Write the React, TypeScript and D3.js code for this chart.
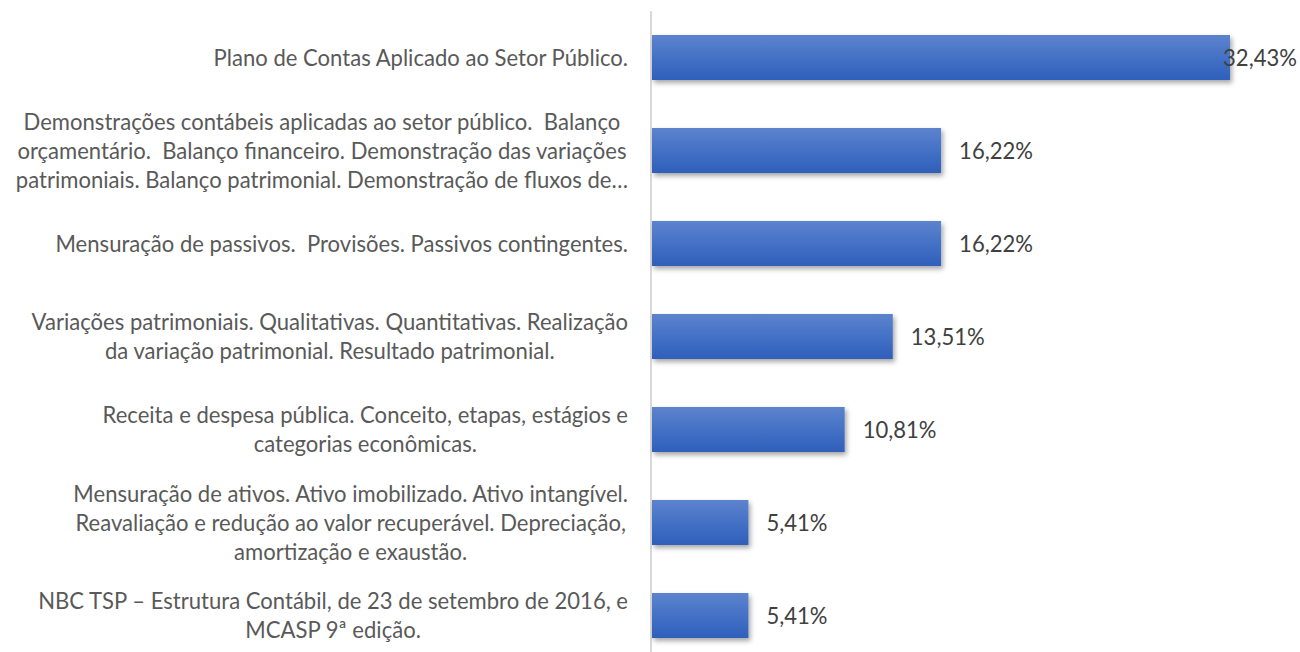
import React, { useEffect, useRef } from "react";
import * as d3 from "d3";

// category labels, line breaks as in the original chart
const categories = [
  "Plano de Contas Aplicado ao Setor Público.",
  "Demonstrações contábeis aplicadas ao setor público.  Balanço\norçamentário.  Balanço financeiro. Demonstração das variações\npatrimoniais. Balanço patrimonial. Demonstração de fluxos de…",
  "Mensuração de passivos.  Provisões. Passivos contingentes.",
  "Variações patrimoniais. Qualitativas. Quantitativas. Realização\nda variação patrimonial. Resultado patrimonial.",
  "Receita e despesa pública. Conceito, etapas, estágios e\ncategorias econômicas.",
  "Mensuração de ativos. Ativo imobilizado. Ativo intangível.\nReavaliação e redução ao valor recuperável. Depreciação,\namortização e exaustão.",
  "NBC TSP – Estrutura Contábil, de 23 de setembro de 2016, e\nMCASP 9ª edição.",
];
const values = [32.43, 16.22, 16.22, 13.51, 10.81, 5.41, 5.41];

const W = 1300;
const H = 652;

const App = () => {
  const ref = useRef<SVGSVGElement>(null);

  useEffect(() => {
    const svg = d3.select(ref.current);
    svg.selectAll("*").remove();

    const axisX = 652;
    const x = d3.scaleLinear().domain([0, 35]).range([axisX, axisX + 17.823 * 35]);
    const y = d3
      .scaleBand()
      .domain(categories)
      .range([11, 662])
      .paddingInner(0.516)
      .paddingOuter(0.258);

    const pct = d3.formatLocale({ decimal: ",", thousands: ".", grouping: [3], currency: ["", ""] }).format(".2f");

    const defs = svg.append("defs");
    const grad = defs
      .append("linearGradient")
      .attr("id", "barGrad")
      .attr("x1", 0)
      .attr("y1", 0)
      .attr("x2", 0)
      .attr("y2", 1);
    grad.append("stop").attr("offset", "0%").attr("stop-color", "#5d83cd");
    grad.append("stop").attr("offset", "50%").attr("stop-color", "#4471c6");
    grad.append("stop").attr("offset", "100%").attr("stop-color", "#2f5fba");

    const shadow = defs
      .append("filter")
      .attr("id", "shadow")
      .attr("x", "-10%")
      .attr("y", "-20%")
      .attr("width", "130%")
      .attr("height", "160%");
    shadow
      .append("feDropShadow")
      .attr("dx", 2)
      .attr("dy", 3)
      .attr("stdDeviation", 2.5)
      .attr("flood-color", "#000")
      .attr("flood-opacity", 0.35);

    // vertical axis line
    svg
      .append("line")
      .attr("x1", axisX - 1)
      .attr("x2", axisX - 1)
      .attr("y1", 11)
      .attr("y2", H)
      .attr("stroke", "#d9d9d9")
      .attr("stroke-width", 2);

    svg
      .append("g")
      .selectAll("rect")
      .data(values)
      .join("rect")
      .attr("x", x(0))
      .attr("y", (d, i) => y(categories[i]))
      .attr("width", (d) => x(d) - x(0))
      .attr("height", y.bandwidth())
      .attr("fill", "url(#barGrad)")
      .attr("filter", "url(#shadow)");

    const fontFamily = "Lato, 'Open Sans', sans-serif";
    const fontSize = 24;
    const lineH = 29;
    const sx = 0.92; // the original text is narrow (Calibri)

    // value labels, kept inside the chart area
    const vals = svg
      .append("g")
      .selectAll("text")
      .data(values)
      .join("text")
      .attr("x", 0)
      .attr("y", (d, i) => y(categories[i]) + y.bandwidth() / 2)
      .attr("dy", "0.35em")
      .attr("fill", "#404040")
      .style("font-family", fontFamily)
      .style("font-size", `${fontSize}px`)
      .text((d) => `${pct(d)}%`);
    vals.each(function (d) {
      const t = this as SVGTextElement;
      const w = t.getComputedTextLength() * sx;
      const left = Math.min(x(d) + 18, W - w - 3);
      d3.select(t).attr("transform", `translate(${left},0) scale(${sx},1)`);
    });

    // category labels, lines centered on each other, block right-aligned
    const labelRight = 628;
    const labels = svg.append("g");
    categories.forEach((c) => {
      const lines = c.split("\n");
      const cy = y(c) + y.bandwidth() / 2;
      const t = labels
        .append("text")
        .attr("fill", "#595959")
        .attr("text-anchor", "middle")
        .attr("transform", `translate(${labelRight},0) scale(${sx},1)`)
        .style("font-family", fontFamily)
        .style("font-size", `${fontSize}px`)
        .style("white-space", "pre");
      const spans = lines.map((ln, j) =>
        t
          .append("tspan")
          .attr("y", cy + (j - (lines.length - 1) / 2) * lineH)
          .attr("dy", "0.35em")
          .text(ln)
      );
      const maxW = d3.max(spans, (s) => (s.node() as SVGTSpanElement).getComputedTextLength()) || 0;
      spans.forEach((s) => s.attr("x", -maxW / 2));
    });
  }, []);

  return (
    <svg
      ref={ref}
      width={W}
      height={H}
      style={{ position: "absolute", left: 0, top: 0, background: "#fff" }}
    />
  );
};

export default App;
